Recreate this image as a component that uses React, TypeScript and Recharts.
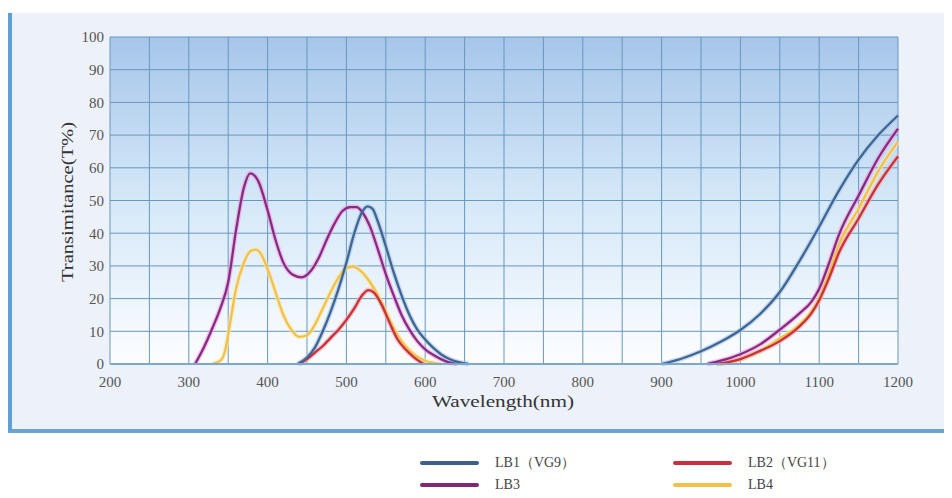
import { LineChart, Line, XAxis, YAxis, CartesianGrid } from "recharts";

type Pt = { nm: number; t: number };

// transmittance curves (nm, T%)
const lb1Vis: Pt[] = [
  { nm: 438, t: 0 }, { nm: 450, t: 2 }, { nm: 460, t: 5 }, { nm: 470, t: 10 },
  { nm: 480, t: 16 }, { nm: 490, t: 23 }, { nm: 500, t: 31 }, { nm: 510, t: 40 },
  { nm: 520, t: 46.5 }, { nm: 527, t: 48.2 }, { nm: 533, t: 47.5 }, { nm: 540, t: 43.5 },
  { nm: 550, t: 36 }, { nm: 560, t: 28 }, { nm: 570, t: 21 }, { nm: 580, t: 15 },
  { nm: 590, t: 10.5 }, { nm: 600, t: 7.5 }, { nm: 610, t: 5 }, { nm: 620, t: 3 },
  { nm: 630, t: 1.6 }, { nm: 640, t: 0.7 }, { nm: 655, t: 0 },
];
const lb1Nir: Pt[] = [
  { nm: 900, t: 0 }, { nm: 925, t: 1.6 }, { nm: 950, t: 3.9 }, { nm: 975, t: 6.8 },
  { nm: 1000, t: 10.4 }, { nm: 1025, t: 15.3 }, { nm: 1050, t: 22 }, { nm: 1075, t: 31.5 },
  { nm: 1100, t: 42 }, { nm: 1125, t: 53 }, { nm: 1150, t: 62.5 }, { nm: 1175, t: 70 },
  { nm: 1200, t: 76 },
];

const lb2Vis: Pt[] = [
  { nm: 440, t: 0 }, { nm: 450, t: 1.5 }, { nm: 460, t: 3.5 }, { nm: 470, t: 5.5 },
  { nm: 480, t: 8 }, { nm: 490, t: 10.5 }, { nm: 500, t: 13.5 }, { nm: 510, t: 17 },
  { nm: 520, t: 21 }, { nm: 528, t: 22.6 }, { nm: 535, t: 21.8 }, { nm: 545, t: 18 },
  { nm: 555, t: 12.5 }, { nm: 565, t: 7.5 }, { nm: 575, t: 4.5 }, { nm: 585, t: 2.2 },
  { nm: 598, t: 0 },
];
const lb2Nir: Pt[] = [
  { nm: 970, t: 0 }, { nm: 1000, t: 1.5 }, { nm: 1025, t: 4 }, { nm: 1050, t: 7 },
  { nm: 1075, t: 11.5 }, { nm: 1090, t: 15.5 }, { nm: 1100, t: 19.5 }, { nm: 1112, t: 26 },
  { nm: 1125, t: 34 }, { nm: 1150, t: 44.5 }, { nm: 1175, t: 55 }, { nm: 1200, t: 63.5 },
];

const lb3Vis: Pt[] = [
  { nm: 308, t: 0 }, { nm: 320, t: 5.5 }, { nm: 330, t: 11 }, { nm: 340, t: 17 },
  { nm: 350, t: 25 }, { nm: 360, t: 41 }, { nm: 370, t: 54 }, { nm: 378, t: 58.3 },
  { nm: 388, t: 56 }, { nm: 400, t: 47 }, { nm: 410, t: 38 }, { nm: 420, t: 31 },
  { nm: 432, t: 27.3 }, { nm: 443, t: 26.5 }, { nm: 455, t: 28.5 }, { nm: 465, t: 32.5 },
  { nm: 475, t: 38 }, { nm: 485, t: 43 }, { nm: 495, t: 46.8 }, { nm: 505, t: 48 },
  { nm: 513, t: 48 }, { nm: 520, t: 46.5 }, { nm: 530, t: 42 }, { nm: 540, t: 35 },
  { nm: 550, t: 27.5 }, { nm: 560, t: 21 }, { nm: 570, t: 15 }, { nm: 580, t: 10.5 },
  { nm: 590, t: 7 }, { nm: 600, t: 4.5 }, { nm: 610, t: 2.8 }, { nm: 620, t: 1.5 },
  { nm: 630, t: 0.5 }, { nm: 640, t: 0 },
];
const lb3Nir: Pt[] = [
  { nm: 958, t: 0 }, { nm: 975, t: 1 }, { nm: 1000, t: 3 }, { nm: 1025, t: 6 },
  { nm: 1050, t: 10.5 }, { nm: 1075, t: 15.5 }, { nm: 1090, t: 19 }, { nm: 1100, t: 23 },
  { nm: 1112, t: 30.5 }, { nm: 1125, t: 39.5 }, { nm: 1150, t: 51.5 }, { nm: 1175, t: 63 },
  { nm: 1200, t: 72 },
];

const lb4Vis: Pt[] = [
  { nm: 330, t: 0 }, { nm: 340, t: 1 }, { nm: 346, t: 4 }, { nm: 352, t: 12 },
  { nm: 360, t: 23 }, { nm: 370, t: 31 }, { nm: 378, t: 34.5 }, { nm: 385, t: 35 },
  { nm: 392, t: 33.5 }, { nm: 400, t: 29 }, { nm: 410, t: 22 }, { nm: 420, t: 15 },
  { nm: 430, t: 10.5 }, { nm: 440, t: 8.3 }, { nm: 450, t: 8.8 }, { nm: 460, t: 12 },
  { nm: 470, t: 17 }, { nm: 480, t: 22 }, { nm: 490, t: 26.5 }, { nm: 500, t: 29.3 },
  { nm: 508, t: 29.8 }, { nm: 518, t: 28.5 }, { nm: 530, t: 25 }, { nm: 540, t: 21 },
  { nm: 550, t: 16 }, { nm: 560, t: 11 }, { nm: 570, t: 7 }, { nm: 580, t: 4.2 },
  { nm: 590, t: 2.2 }, { nm: 600, t: 1 }, { nm: 620, t: 0 },
];
const lb4Nir: Pt[] = [
  { nm: 974, t: 0 }, { nm: 1000, t: 1.5 }, { nm: 1025, t: 4 }, { nm: 1050, t: 7.8 },
  { nm: 1075, t: 12 }, { nm: 1090, t: 16 }, { nm: 1100, t: 20 }, { nm: 1112, t: 27.5 },
  { nm: 1125, t: 36.5 }, { nm: 1150, t: 47.5 }, { nm: 1175, t: 59 }, { nm: 1200, t: 68 },
];

const xTicks = [200, 250, 300, 350, 400, 450, 500, 550, 600, 650, 700, 750, 800, 850, 900, 950, 1000, 1050, 1100, 1150, 1200];
const yTicks = [0, 10, 20, 30, 40, 50, 60, 70, 80, 90, 100];

const series = [
  { name: "LB4", color: "#f1c14a", halo: "#fbe7a8", parts: [lb4Vis, lb4Nir] },
  { name: "LB2（VG11）", color: "#c8303e", halo: "#f2a7a7", parts: [lb2Vis, lb2Nir] },
  { name: "LB3", color: "#872b80", halo: "#ee9ee0", parts: [lb3Vis, lb3Nir] },
  { name: "LB1（VG9）", color: "#3e6594", halo: "#a8c4e2", parts: [lb1Vis, lb1Nir] },
];

const legendItems = [
  { name: "LB1（VG9）", color: "#3e5f91", x: 420, y: 463 },
  { name: "LB2（VG11）", color: "#c8303e", x: 673, y: 463 },
  { name: "LB3", color: "#7e2a79", x: 420, y: 485 },
  { name: "LB4", color: "#f1c14a", x: 673, y: 485 },
];

const serif = '"Liberation Serif", "Times New Roman", serif';

export default function App() {
  return (
    <div style={{ position: "relative", width: 952, height: 498, margin: -8, background: "#fff", fontFamily: serif }}>
      <div
        style={{
          position: "absolute",
          left: 7,
          top: 13,
          width: 945,
          height: 420,
          background: "#edf1f9",
          borderLeft: "5px solid #5e9fd6",
          borderBottom: "4px solid #68a3d3",
          boxSizing: "border-box",
        }}
      />
      <div style={{ position: "absolute", left: 0, top: 0 }}>
        <LineChart width={952} height={432} margin={{ top: 37, right: 54, bottom: 28, left: 50 }}>
          <defs>
            <linearGradient id="plotBg" x1="0" y1="0" x2="0" y2="1">
              <stop offset="0%" stopColor="#a6c6ea" />
              <stop offset="50%" stopColor="#d5e8f8" />
              <stop offset="100%" stopColor="#fcfdff" />
            </linearGradient>
          </defs>
          <CartesianGrid stroke="#6797bf" strokeWidth={1} fill="url(#plotBg)" fillOpacity={1} />
          <XAxis
            dataKey="nm"
            type="number"
            domain={[200, 1200]}
            ticks={xTicks}
            allowDuplicatedCategory={false}
            tickFormatter={(v: number) => (v % 100 === 0 ? String(v) : "")}
            axisLine={{ stroke: "#79a9cc", strokeWidth: 2 }}
            tickLine={false}
            tickSize={6}
            tickMargin={6}
            height={40}
            tick={{ fontSize: 15, fill: "#555", fontFamily: serif }}
            label={{
              content: () => (
                <text x={503} y={407} textAnchor="middle" fontSize={17} fill="#333" fontFamily={serif} textLength={142} lengthAdjust="spacingAndGlyphs">
                  Wavelength(nm)
                </text>
              ),
            }}
          />
          <YAxis
            type="number"
            domain={[0, 100]}
            ticks={yTicks}
            width={60}
            axisLine={false}
            tickLine={false}
            tickSize={4}
            tickMargin={2}
            tick={{ fontSize: 15, fill: "#555", fontFamily: serif }}
            label={{
              content: () => (
                <text
                  x={0}
                  y={0}
                  transform="translate(67,202) rotate(-90)"
                  textAnchor="middle"
                  dominantBaseline="central"
                  fontSize={17}
                  fill="#333"
                  fontFamily={serif}
                  textLength={160}
                  lengthAdjust="spacingAndGlyphs"
                >
                  Transimitance(T%)
                </text>
              ),
            }}
          />
          {series.map((s) =>
            s.parts.map((part, i) => (
              <Line
                key={`${s.name}-halo-${i}`}
                data={part}
                dataKey="t"
                type="monotone"
                stroke={s.halo}
                strokeWidth={5}
                strokeOpacity={0.6}
                dot={false}
                activeDot={false}
                isAnimationActive={false}
              />
            ))
          )}
          {series.map((s) =>
            s.parts.map((part, i) => (
              <Line
                key={`${s.name}-${i}`}
                data={part}
                dataKey="t"
                type="monotone"
                stroke={s.color}
                strokeWidth={2.3}
                dot={false}
                activeDot={false}
                isAnimationActive={false}
              />
            ))
          )}
        </LineChart>
      </div>
      {legendItems.map((it) => (
        <div key={it.name} style={{ position: "absolute", left: it.x, top: it.y - 10, height: 20, display: "flex", alignItems: "center" }}>
          <div style={{ width: 59, height: 4, borderRadius: 2, background: it.color }} />
          <span style={{ marginLeft: 16, fontSize: 14, color: "#444", fontFamily: serif, whiteSpace: "nowrap" }}>{it.name}</span>
        </div>
      ))}
    </div>
  );
}
